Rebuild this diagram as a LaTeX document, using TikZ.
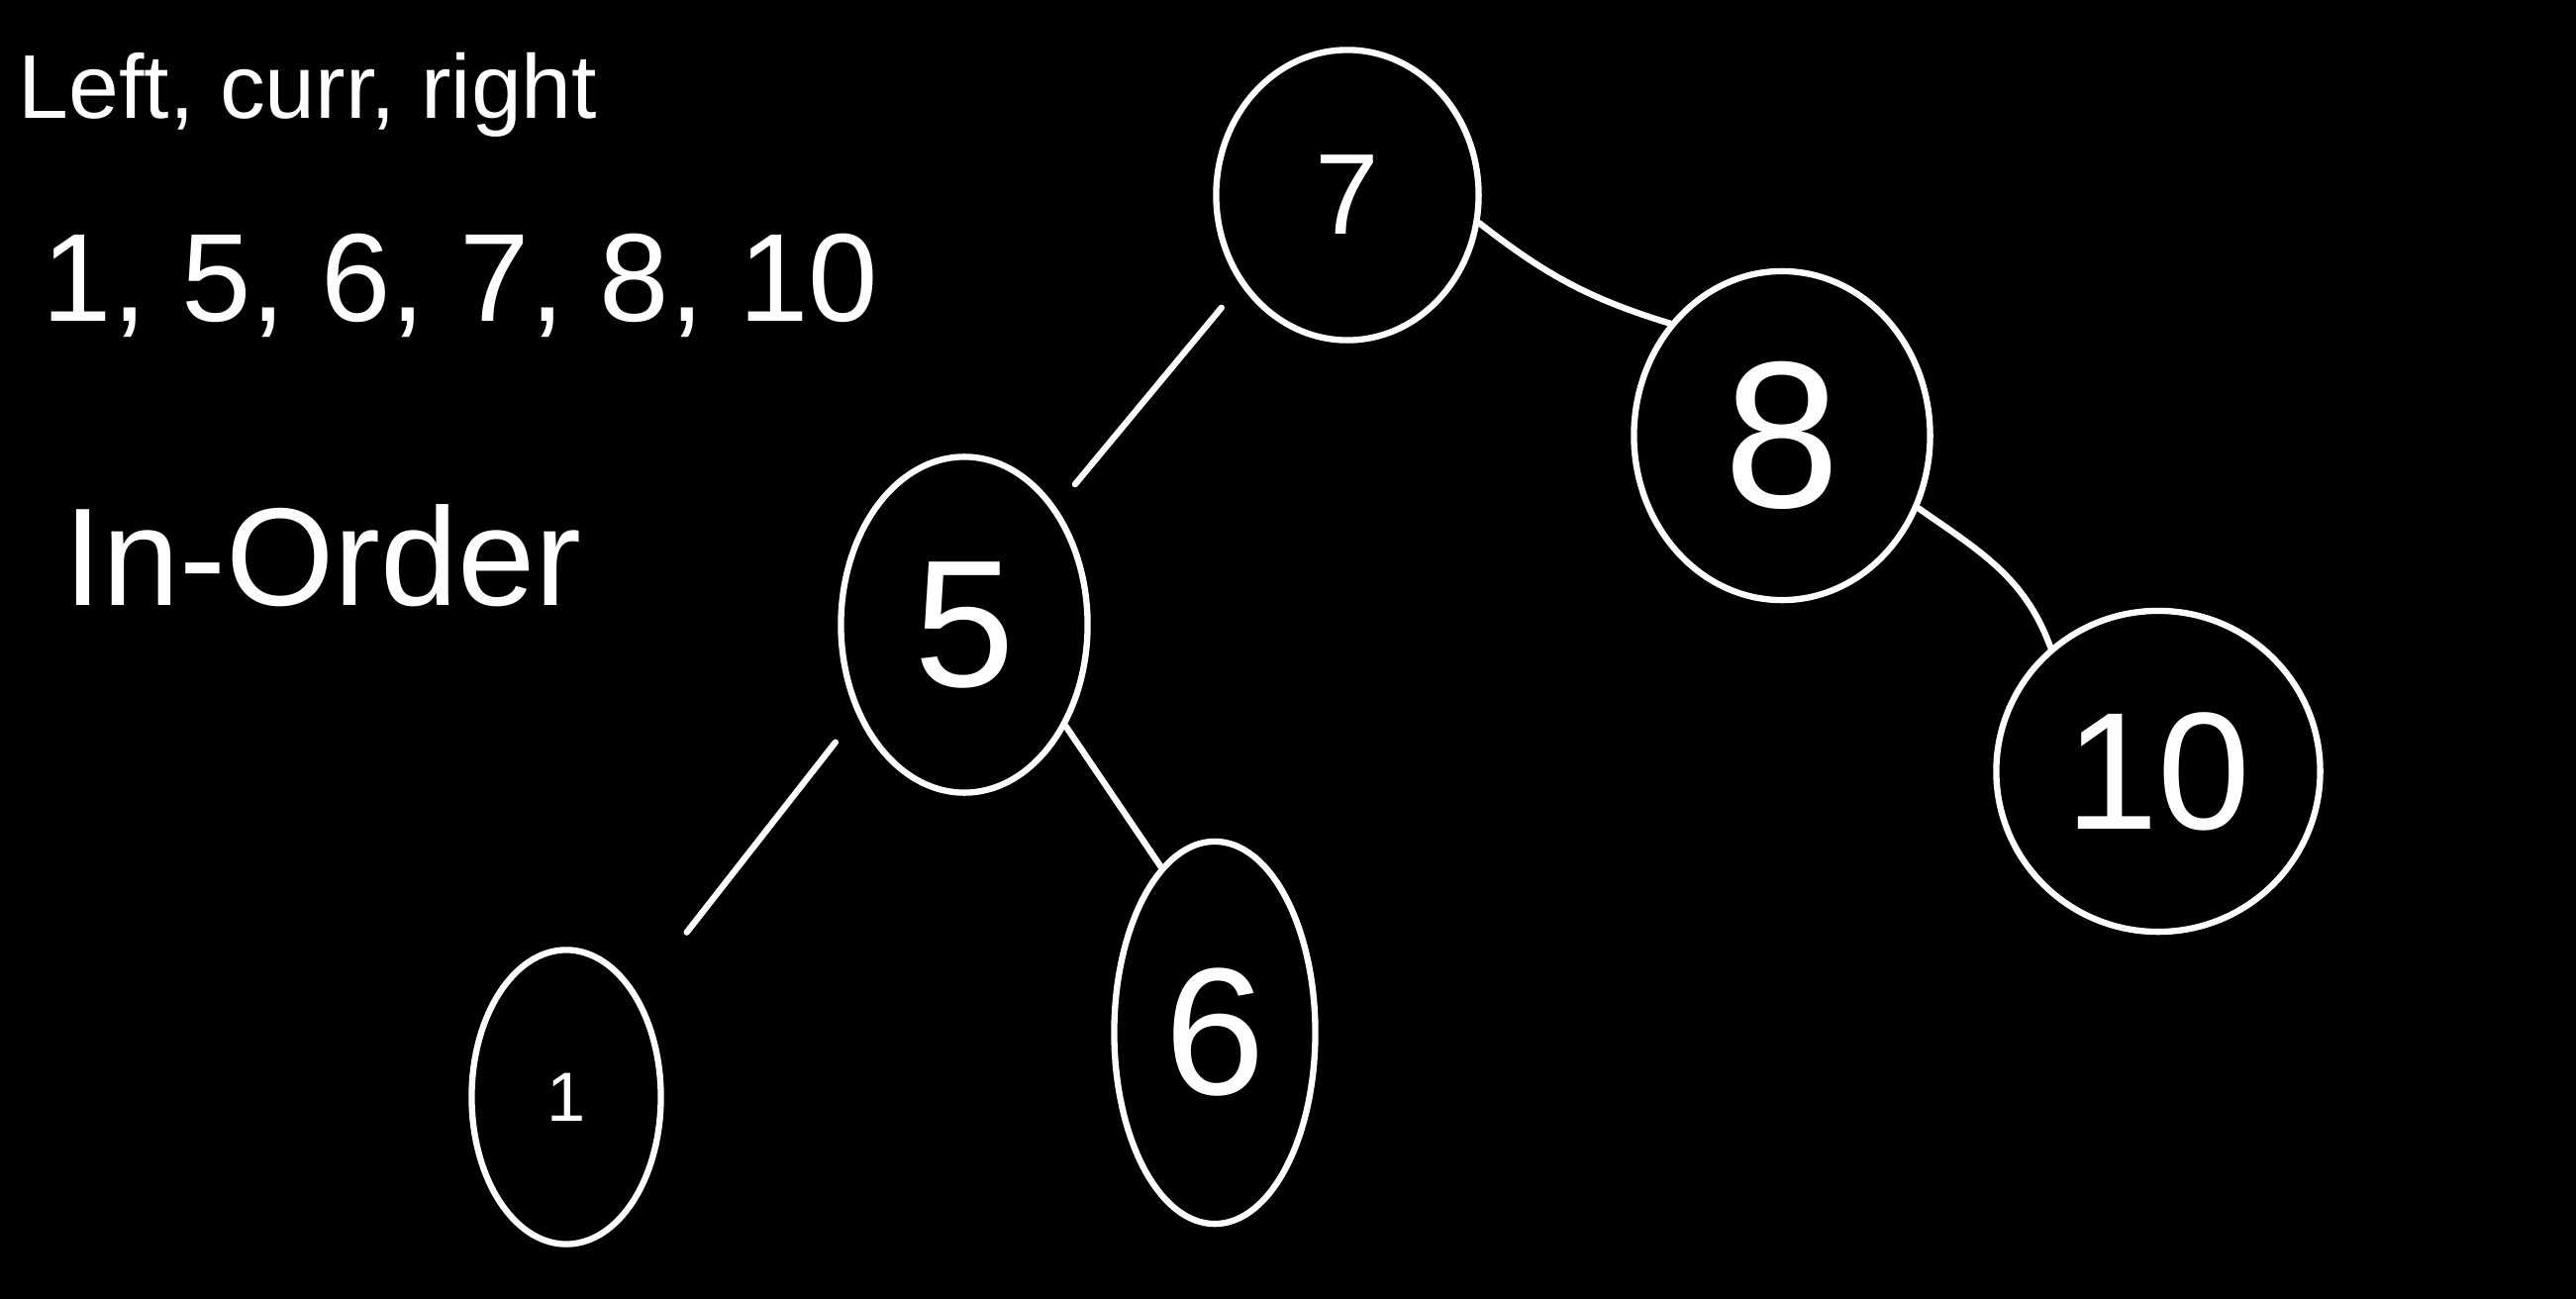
\documentclass[tikz,border=0pt]{standalone}
\usepackage{fontspec}
\setmainfont{Liberation Sans}
\usetikzlibrary{shapes.geometric}
\definecolor{BoardBlack}{RGB}{0,0,0}
\definecolor{ChalkWhite}{RGB}{255,255,255}
\tikzset{
  keynode/.style={ellipse,draw=ChalkWhite,line width=1.8pt,text=ChalkWhite,inner sep=0pt},
  link/.style={draw=ChalkWhite,line width=1.8pt,line cap=round},
  note/.style={text=ChalkWhite,inner sep=0pt}
}
\begin{document}
\begin{tikzpicture}[x=0.01cm,y=-0.01cm]
  \fill[BoardBlack] (0,0) rectangle (2602,1312);
  % notes on the left
  \node[note,anchor=base,font=\fontsize{26}{30}\selectfont] (rule) at (311,119) {Left, curr, right};
  \node[note,anchor=base,font=\fontsize{36}{40}\selectfont] (seq) at (465,324) {1, 5, 6, 7, 8, 10};
  \node[note,anchor=base,font=\fontsize{40}{44}\selectfont] (title) at (326,611) {In-Order};
  % tree
  \node[keynode,minimum width=2.65cm,minimum height=2.93cm,font=\fontsize{33}{36}\selectfont] (n7) at (1361,197) {7};
  \node[keynode,minimum width=2.99cm,minimum height=3.32cm,font=\fontsize{60}{64}\selectfont] (n8) at (1800,440) {8};
  \node[keynode,minimum width=2.49cm,minimum height=3.39cm,font=\fontsize{52}{56}\selectfont] (n5) at (974,631) {5};
  \node[keynode,minimum width=3.27cm,minimum height=3.24cm,font=\fontsize{48}{52}\selectfont] (n10) at (2180,779) {10};
  \node[keynode,minimum width=1.91cm,minimum height=2.97cm,font=\fontsize{20}{24}\selectfont] (n1) at (572,1108) {1};
  \node[keynode,minimum width=2.03cm,minimum height=3.86cm,font=\fontsize{52}{56}\selectfont] (n6) at (1227,1043) {6};
  \draw[link,shorten <=0.3cm,shorten >=0.3cm] (n7.220) -- (n5.52);
  \draw[link] (n7.-12) to[out=-38,in=163] (n8.135);
  \draw[link,shorten <=0.35cm,shorten >=0.8cm] (n5.220) -- (n1.55);
  \draw[link] (n5.-45) -- (n6.108);
  \draw[link] (n8.-28) to[out=-35,in=110] (n10.131);
\end{tikzpicture}
\end{document}
